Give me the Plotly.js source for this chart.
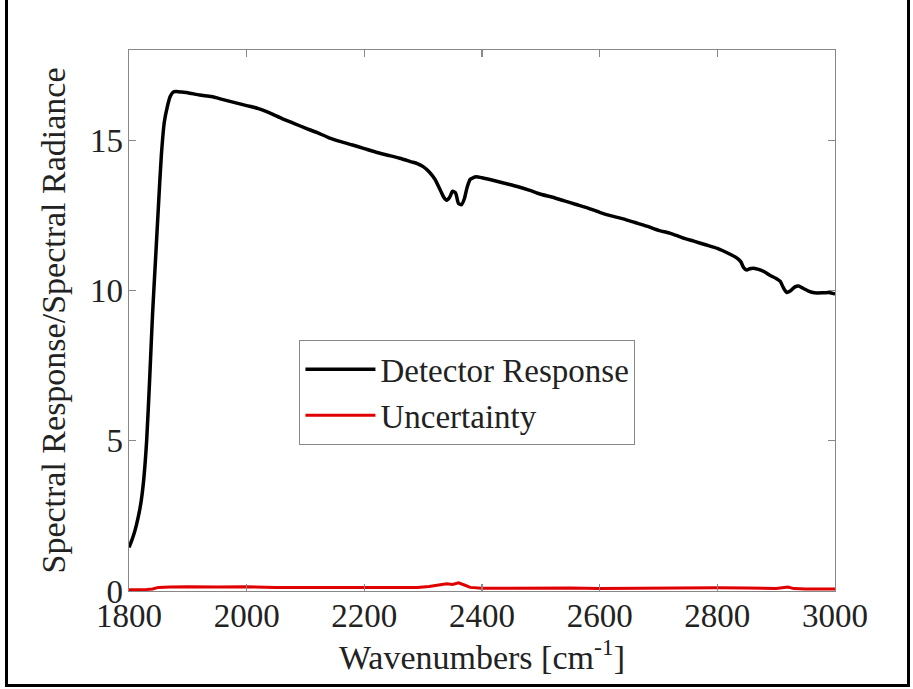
<!DOCTYPE html>
<html>
<head>
<meta charset="utf-8">
<script src="https://cdn.plot.ly/plotly-3.0.1.min.js"></script>
<style>
  html, body { margin: 0; padding: 0; background: #fff; }
  #chart { width: 913px; height: 689px; }
  #frame { position: absolute; left: 5px; top: -10px; width: 899px; height: 691px; border: 3px solid #000; pointer-events: none; }
</style>
</head>
<body>
<div id="chart"></div>
<div id="frame"></div>
<script>
// Detector response
const respX = [1800,1805,1810,1815,1820,1825,1830,1835,1840,1845,1850,1855,1860,1865,1870,1875,1880,1890,1900,1920,1940,1960,1980,2000,2020,2040,2060,2080,2100,2120,2140,2160,2180,2200,2220,2240,2260,2280,2290,2300,2310,2320,2330,2335,2340,2345,2350,2355,2360,2365,2370,2375,2380,2385,2390,2400,2420,2440,2460,2480,2500,2520,2540,2560,2580,2600,2620,2640,2660,2680,2700,2720,2740,2760,2780,2800,2820,2834,2840,2845,2850,2855,2860,2870,2880,2890,2900,2907,2912,2918,2925,2932,2938,2945,2955,2965,2980,2990,3000];
const respY = [1.45,1.7,2.0,2.4,2.9,3.7,5.0,7.0,9.2,11.0,12.8,14.5,15.6,16.1,16.45,16.6,16.62,16.6,16.58,16.5,16.45,16.35,16.25,16.15,16.05,15.9,15.72,15.56,15.4,15.25,15.08,14.95,14.84,14.72,14.6,14.5,14.4,14.28,14.22,14.12,13.95,13.7,13.3,13.1,13.0,13.1,13.3,13.25,12.9,12.85,13.05,13.45,13.7,13.75,13.78,13.75,13.66,13.56,13.46,13.34,13.2,13.1,12.98,12.86,12.74,12.6,12.48,12.38,12.26,12.14,12.0,11.9,11.76,11.64,11.52,11.4,11.22,11.07,10.95,10.75,10.68,10.72,10.74,10.7,10.62,10.5,10.4,10.3,10.1,9.93,10.0,10.12,10.15,10.08,9.98,9.92,9.92,9.93,9.88];
// Uncertainty
const uncX = [1800,1820,1830,1840,1850,1870,1900,1950,2000,2050,2100,2150,2200,2250,2290,2310,2330,2340,2350,2360,2370,2380,2400,2450,2500,2550,2600,2650,2700,2750,2800,2850,2900,2920,2930,2950,3000];
const uncY = [0.04,0.04,0.05,0.07,0.12,0.13,0.14,0.13,0.14,0.12,0.12,0.11,0.11,0.11,0.12,0.15,0.2,0.24,0.22,0.27,0.2,0.12,0.09,0.1,0.09,0.1,0.08,0.09,0.09,0.1,0.11,0.1,0.08,0.13,0.08,0.07,0.07];
const xTicks = [1800,2000,2200,2400,2600,2800,3000];
const yTicks = [0,5,10,15];

const FONT = 'Liberation Serif, Times New Roman, serif';
const data = [
  {x: respX, y: respY, type: 'scatter', mode: 'lines', name: 'Detector Response',
   line: {color: '#000000', width: 3.5, shape: 'spline', smoothing: 0.6}},
  {x: uncX, y: uncY, type: 'scatter', mode: 'lines', name: 'Uncertainty',
   line: {color: '#e00000', width: 3}}
];
const axisCommon = {
  showgrid: false, zeroline: false, showline: true, linecolor: '#888', linewidth: 1.3,
  mirror: 'ticks', ticks: 'inside', ticklen: 7, tickcolor: '#888', tickwidth: 1.3,
  tickfont: {family: FONT, size: 33, color: '#222'}
};
const layout = {
  width: 913, height: 689,
  margin: {l: 129, r: 78, t: 50, b: 98},
  paper_bgcolor: '#fff', plot_bgcolor: '#fff',
  font: {family: FONT, color: '#222'},
  showlegend: true,
  legend: {x: 0.241, y: 0.464, xanchor: 'left', yanchor: 'top',
           bgcolor: '#fff', bordercolor: '#888', borderwidth: 1.3, itemwidth: 70,
           font: {family: FONT, size: 33, color: '#222'}},
  xaxis: Object.assign({}, axisCommon, {
    range: [1800, 3000], tickvals: xTicks, ticktext: xTicks.map(String),
    ticklabelstandoff: -5,
    title: {text: 'Wavenumbers [cm<sup>-1</sup>]', font: {family: FONT, size: 34, color: '#222'}, standoff: 4}
  }),
  yaxis: Object.assign({}, axisCommon, {
    range: [0, 18], tickvals: yTicks, ticktext: yTicks.map(String),
    ticklabelstandoff: -2,
    title: {text: 'Spectral Response/Spectral Radiance', font: {family: FONT, size: 34, color: '#222'}, standoff: 14}
  })
};
Plotly.newPlot('chart', data, layout, {displayModeBar: false, staticPlot: true});
</script>
</body>
</html>
